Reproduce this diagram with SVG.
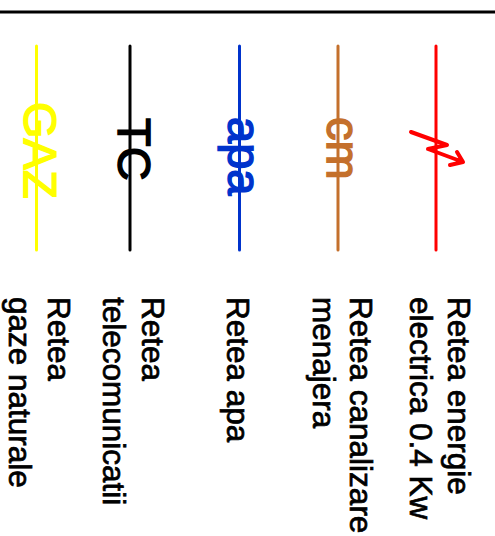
<svg xmlns="http://www.w3.org/2000/svg" width="495" height="536" viewBox="0 0 495 536">
<style>
text{font-family:"Liberation Sans",Arial,sans-serif}
.l{font-size:31.500px;fill:#000;stroke:#000;stroke-width:.7px}
.s{font-size:47px;stroke-width:1.500px}
.c{fill:none;stroke-width:3;stroke-linecap:round;stroke-linejoin:round}
</style>
<rect width="495" height="536" fill="#fff"/>
<g id="connectors">
<line x1="0" y1="12" x2="495" y2="12" stroke="#000" stroke-width="3"/>
<line class="c" x1="36.500" y1="46" x2="36.500" y2="250" stroke="#ffff00"/>
<line class="c" x1="130" y1="46" x2="130" y2="250" stroke="#000"/>
<line class="c" x1="239.500" y1="46" x2="239.500" y2="250" stroke="#0033cc"/>
<line class="c" x1="338" y1="46" x2="338" y2="250" stroke="#c4702c"/>
<line class="c" x1="436" y1="46" x2="436" y2="250" stroke="#ff0000"/>
</g>
<g id="gaz"><text class="s" fill="#ffff00" stroke="#ffff00" transform="translate(24,102) rotate(90)">GAZ</text>
<g><text class="l" transform="translate(48,297) rotate(90)">Retea</text><text class="l" transform="translate(9,297) rotate(90)">gaze naturale</text></g></g>
<g id="tc"><text class="s" fill="#000" stroke="#000" transform="translate(118,118) rotate(90)">TC</text>
<g><text class="l" transform="translate(142,297) rotate(90)">Retea</text><text class="l" transform="translate(103,297) rotate(90)">telecomunicatii</text></g></g>
<g id="apa"><text class="s" fill="#0033cc" stroke="#0033cc" transform="translate(228,117) rotate(90)">apa</text>
<text class="l" transform="translate(227,297) rotate(90)">Retea apa</text></g>
<g id="cm"><text class="s" fill="#c4702c" stroke="#c4702c" transform="translate(327,117) rotate(90)">cm</text>
<g><text class="l" transform="translate(350,297) rotate(90)">Retea canalizare</text><text class="l" transform="translate(313,297) rotate(90)">menajera</text></g></g>
<g id="electric"><path class="c" stroke="#ff0000" style="stroke-width:4" d="M411 132L447 145L428 149L463 162M457 152L463 162L450 165"/>
<g><text class="l" transform="translate(448,297) rotate(90)">Retea energie</text><text class="l" transform="translate(410,297) rotate(90)">electrica 0.4 Kw</text></g></g>
</svg>
